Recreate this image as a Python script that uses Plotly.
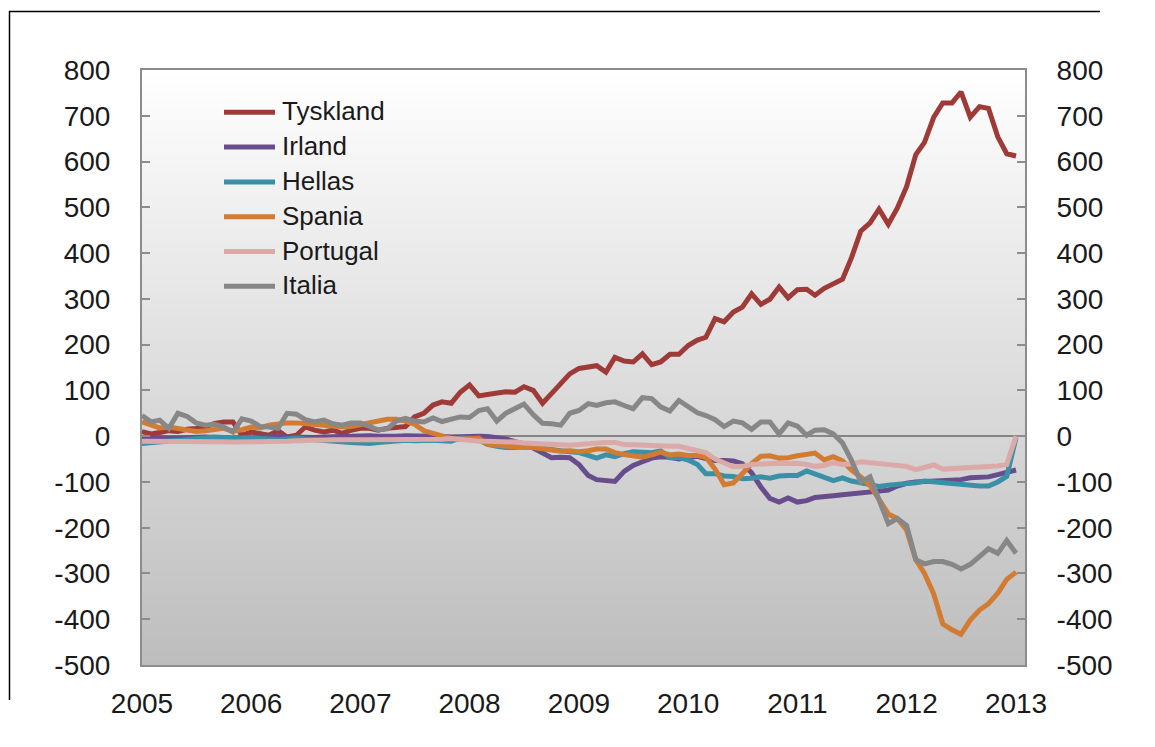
import plotly.graph_objects as go
import pandas as pd

# ---------------- data (monthly, Jan 2005 - Jan 2013) ----------------
dates = pd.date_range("2005-01-01", "2013-01-01", freq="MS")
year_labels = ["2005", "2006", "2007", "2008", "2009", "2010", "2011", "2012", "2013"]
year_ticks = ["2005-01-01", "2006-01-01", "2007-01-01", "2008-01-01", "2009-01-01",
              "2010-01-01", "2011-01-01", "2012-01-01", "2013-01-01"]
y_tick_vals = [-500, -400, -300, -200, -100, 0, 100, 200, 300, 400, 500, 600, 700, 800]
y_tick_text = ["-500", "-400", "-300", "-200", "-100", "0", "100", "200", "300",
               "400", "500", "600", "700", "800"]

series_names = ["Tyskland", "Irland", "Hellas", "Spania", "Portugal", "Italia"]

tyskland = [10, 5, 8, 12, 10, 15, 17, 20, 28, 31,
            31, 2, 9, 4, 2, 12, -2, 2, 20, 13,
            9, 13, 6, 13, 17, 17, 13, 17, 20, 21,
            42, 50, 68, 75, 72, 96, 112, 88, 91, 94,
            97, 96, 108, 100, 72, 93, 117, 136, 148, 152,
            154, 140, 172, 164, 162, 180, 156, 162, 179, 179,
            198, 210, 216, 257, 250, 271, 282, 311, 288, 299,
            326, 302, 320, 321, 308, 323, 334, 343, 390, 448,
            466, 496, 463, 498, 545, 615, 642, 697, 728, 728,
            752, 697, 720, 716, 654, 617, 612]

irland = [-3, -4, -3, -4, -4, -3, -3, -2, -3, -4,
          -5, -3, -2, -3, -2, -1, -2, -3, -2, -3,
          -2, -1, -1, 0, 0, 1, 0, -1, 0, 1,
          1, 0, 0, -1, -2, -1, 0, 0, -1, -3,
          -6, -12, -17, -26, -38, -47, -46, -47, -62, -86,
          -95, -98, -99, -77, -64, -56, -48, -45, -46, -50,
          -48, -44, -49, -53, -53, -54, -60, -80, -111, -136,
          -144, -135, -144, -141, -134, -133, -130, -128, -126, -124,
          -121, -118, -118, -109, -103, -100, -99, -100, -99, -97,
          -95, -91, -89, -89, -84, -78, -74]

hellas = [-16, -14, -12, -10, -8, -6, -6, -4, -2, -3,
          -5, -4, -3, -5, -6, -8, -6, -4, -6, -8,
          -10, -12, -13, -14, -15, -16, -14, -12, -10, -9,
          -10, -9, -9, -10, -11, -4, -4, -8, -18, -22,
          -25, -25, -23, -24, -27, -31, -32, -34, -36, -42,
          -48, -41, -45, -38, -34, -35, -36, -32, -47, -47,
          -52, -62, -82, -82, -87, -88, -93, -92, -89, -92,
          -87, -86, -86, -76, -82, -89, -97, -91, -98, -102,
          -106, -110, -107, -106, -104, -102, -98, -100, -103, -104,
          -106, -108, -109, -109, -100, -88, -3]

spania = [31, 25, 18, 20, 17, 12, 10, 12, 14, 17,
          11, 14, 20, 18, 24, 27, 29, 29, 28, 25,
          24, 22, 20, 21, 25, 30, 35, 37, 37, 33,
          26, 12, 6, 1, -5, -7, -6, -4, -18, -20,
          -21, -23, -25, -25, -28, -31, -33, -32, -34, -32,
          -28, -28, -36, -40, -43, -46, -41, -35, -41, -39,
          -42, -42, -46, -72, -106, -102, -82, -60, -44, -43,
          -48, -47, -43, -39, -37, -52, -45, -54, -74, -89,
          -108, -138, -170, -180, -205, -270, -300, -345, -410, -423,
          -433, -402, -380, -366, -343, -313, -297]

portugal = [-11, -11, -12, -11, -11, -10, -11, -11, -12, -12,
            -13, -13, -12, -13, -12, -11, -11, -10, -9, -9,
            -8, -8, -8, -9, -8, -8, -8, -7, -7, -8,
            -8, -9, -9, -7, -5, -7, -10, -11, -11, -11,
            -12, -13, -15, -16, -18, -20, -21, -20, -18, -16,
            -14, -14, -14, -18, -19, -20, -22, -22, -22, -22,
            -26, -30, -36, -50, -58, -67, -66, -62, -61, -59,
            -59, -60, -59, -62, -66, -64, -58, -62, -61, -56,
            -58, -59, -61, -62, -66, -73, -69, -63, -72, -71,
            -70, -69, -68, -67, -65, -62, 0]

italia = [45, 31, 35, 17, 50, 43, 29, 24, 26, 20,
          9, 38, 33, 21, 20, 17, 50, 48, 36, 31,
          35, 27, 24, 29, 29, 22, 14, 16, 33, 39,
          33, 31, 40, 32, 38, 42, 41, 56, 60, 33,
          50, 60, 70, 47, 28, 27, 24, 50, 56, 71,
          67, 73, 75, 67, 60, 84, 82, 64, 55, 78,
          64, 51, 45, 36, 21, 33, 29, 15, 31, 31,
          5, 29, 22, 2, 13, 14, 5, -15, -53, -100,
          -89, -137, -191, -180, -195, -270, -279, -274, -274, -280,
          -290, -280, -264, -246, -256, -228, -256]

series_values = [tyskland, irland, hellas, spania, portugal, italia]
series_colors = ["#9e3b39", "#674d8b", "#3a90a6", "#d27b32", "#dba9a8", "#878787"]

# ---------------- layout geometry (page pixels) ----------------
W, H = 1155, 747
BODY = 8                      # default body margin of the html page
PL, PR, PT, PB = 142, 1025, 70, 665   # plot area on the page
FW, FH = W - 2 * BODY, H - 2 * BODY


def px_x(px):
    return (px - PL) / (PR - PL)


def px_y(py):
    return (PB - py) / (PB - PT)


AXIS_GREY = "#8c8c8c"
TEXT = "#1a1a1a"
FONT = "Liberation Sans, Arial, sans-serif"

fig = go.Figure()

for name, vals, col in zip(series_names, series_values, series_colors):
    fig.add_trace(go.Scatter(x=dates, y=vals, name=name, mode="lines",
                             line=dict(color=col, width=5),
                             showlegend=False))

# invisible trace to activate the right-hand axis
fig.add_trace(go.Scatter(x=[dates[0]], y=[tyskland[0]], yaxis="y2", mode="markers",
                         marker=dict(opacity=0), showlegend=False, hoverinfo="skip"))

shapes = []
# vertical gradient background of the plot area (white -> grey)
N = 120
for i in range(N):
    f0, f1 = i / N, (i + 1) / N
    g = round(255 - 66 * (1 - (f0 + f1) / 2))
    shapes.append(dict(type="rect", xref="x domain", yref="y domain",
                       x0=0, x1=1, y0=f0, y1=min(1, f1 + 0.002),
                       fillcolor=f"rgb({g},{g},{g})", line=dict(width=0),
                       layer="below"))

# outer frame: top edge and left edge
shapes.append(dict(type="line", xref="paper", yref="paper",
                   x0=px_x(9), x1=px_x(1100), y0=px_y(11.5), y1=px_y(11.5),
                   line=dict(color="black", width=1.5)))
shapes.append(dict(type="line", xref="paper", yref="paper",
                   x0=px_x(9.5), x1=px_x(9.5), y0=px_y(11), y1=px_y(700),
                   line=dict(color="black", width=1.5)))

annotations = []
# manual legend
for i, (name, col) in enumerate(zip(series_names, series_colors)):
    yc = 112.3 + 34.8 * i
    shapes.append(dict(type="line", xref="paper", yref="paper",
                       x0=px_x(224), x1=px_x(275), y0=px_y(yc), y1=px_y(yc),
                       line=dict(color=col, width=5)))
    annotations.append(dict(xref="paper", yref="paper", x=px_x(280), y=px_y(yc - 1),
                            xanchor="left", yanchor="middle", showarrow=False,
                            text=name, font=dict(family=FONT, size=26, color=TEXT)))

axis_common = dict(showline=True, linecolor=AXIS_GREY, linewidth=2,
                   showgrid=False, ticks="inside", ticklen=8, tickwidth=2,
                   tickcolor=AXIS_GREY, range=[-500, 800],
                   tickvals=y_tick_vals, ticktext=y_tick_text,
                   tickfont=dict(family=FONT, size=28, color=TEXT),
                   fixedrange=True)

fig.update_layout(
    width=FW, height=FH,
    margin=dict(l=PL - BODY, r=FW - (PR - BODY), t=PT - BODY, b=FH - (PB - BODY), pad=0),
    paper_bgcolor="white",
    plot_bgcolor="rgba(0,0,0,0)",
    showlegend=False,
    xaxis=dict(type="date", range=["2005-01-01", "2013-01-31"],
               tickvals=year_ticks, ticktext=year_labels,
               showline=True, mirror=True, linecolor=AXIS_GREY, linewidth=2,
               showgrid=False, ticks="", zeroline=False,
               tickfont=dict(family=FONT, size=28, color=TEXT),
               ticklabelstandoff=12),
    yaxis=dict(**axis_common, side="left", zeroline=True, zerolinecolor="#858585",
               zerolinewidth=2, ticklabelstandoff=24),
    yaxis2=dict(**axis_common, side="right", overlaying="y", zeroline=False,
                ticklabelstandoff=24),
    shapes=shapes,
    annotations=annotations,
)

fig.write_html("out.html")
